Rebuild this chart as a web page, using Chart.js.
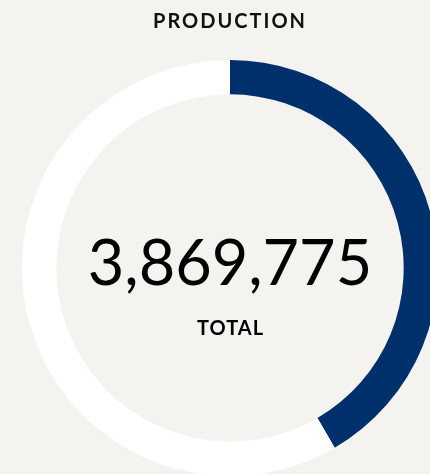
<!DOCTYPE html>
<html>
<head>
<meta charset="utf-8">
<script src="https://cdn.jsdelivr.net/npm/chart.js@4"></script>
<style>
  html, body { margin: 0; padding: 0; background: #f4f3f0; overflow: hidden; }
  #wrap { position: absolute; left: 0; top: 0; width: 460px; height: 476px; }
</style>
</head>
<body>
<div id="wrap"><canvas id="chart"></canvas></div>
<script>
(function() {

  const titleText = 'PRODUCTION';
  const segmentLabels = ['Production', 'Remaining'];
  const segmentValues = [1610000, 2259775];
  const totalText = '3,869,775';
  const totalLabel = 'TOTAL';

  const colors = ['#00306b', '#ffffff'];

  // tracking for the title text
  const spacing = {
    id: 'spacing',
    beforeDraw(chart) {
      chart.ctx.letterSpacing = '2px';
    },
    afterDraw(chart) {
      chart.ctx.letterSpacing = '0px';
    }
  };

  // center text drawn in the hole of the ring
  const centerText = {
    id: 'centerText',
    afterDraw(chart) {
      const ctx = chart.ctx;
      const meta = chart.getDatasetMeta(0).data[0];
      const x = meta.x;
      const y = meta.y;
      ctx.save();
      ctx.fillStyle = '#000000';
      ctx.textAlign = 'center';
      ctx.textBaseline = 'alphabetic';
      ctx.letterSpacing = '0px';
      ctx.font = '400 63px Lato, "Open Sans", sans-serif';
      ctx.fillText(totalText, x, y + 17);
      ctx.letterSpacing = '1px';
      ctx.font = '700 20px Lato, "Open Sans", sans-serif';
      ctx.fillText(totalLabel, x + 0.5, y + 67);
      ctx.restore();
    }
  };

  const ctx = document.getElementById('chart');
  new Chart(ctx, {
    type: 'doughnut',
    data: {
      labels: segmentLabels,
      datasets: [{
        data: segmentValues,
        backgroundColor: colors,
        borderWidth: 0,
      }]
    },
    options: {
      responsive: true,
      maintainAspectRatio: false,
      animation: false,
      cutout: '83.5%',
      plugins: {
        legend: { display: false },
        tooltip: { enabled: false },
        title: {
          display: true,
          text: titleText,
          color: '#111111',
          font: { family: 'Lato, "Open Sans", sans-serif', size: 20, weight: '700', lineHeight: 1.2 },
          padding: { top: 10, bottom: 26 },
        },
      },
    },
    plugins: [spacing, centerText],
  });

})();
</script>
</body>
</html>
